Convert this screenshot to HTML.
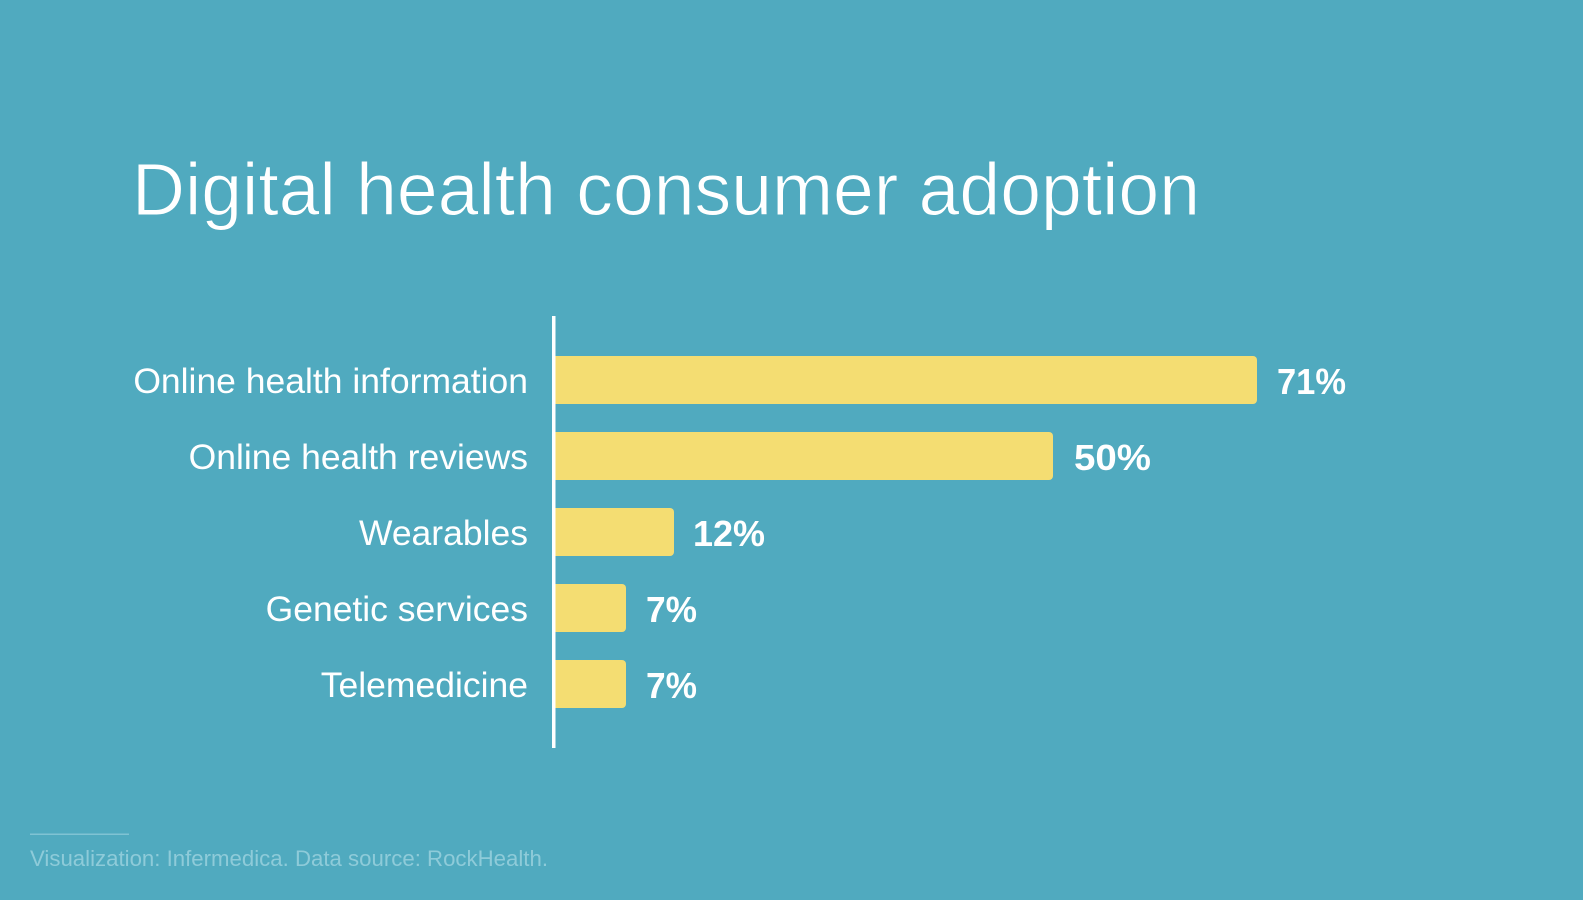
<!DOCTYPE html>
<html>
<head>
<meta charset="utf-8">
<style>
  html, body { margin: 0; padding: 0; }
  body { width: 1583px; height: 900px; background: #50aabf; overflow: hidden; }
  svg { display: block; }
</style>
</head>
<body>
<svg width="1583" height="900" viewBox="0 0 1583 900" xmlns="http://www.w3.org/2000/svg">
  <rect x="0" y="0" width="1583" height="900" fill="#50aabf"/>

  <!-- Title -->
  <text x="132" y="215" font-family="Liberation Sans, sans-serif" font-size="74" fill="#ffffff" stroke="#50aabf" stroke-width="1" textLength="1068" lengthAdjust="spacingAndGlyphs">Digital health consumer adoption</text>

  <!-- Axis line -->
  <rect x="552" y="316" width="3.5" height="432" fill="#ffffff"/>

  <!-- Bars -->
  <g fill="#f4dd72">
    <path d="M555.5 356 H1253 a4 4 0 0 1 4 4 V400 a4 4 0 0 1 -4 4 H555.5 Z"/>
    <path d="M555.5 432 H1049 a4 4 0 0 1 4 4 V476 a4 4 0 0 1 -4 4 H555.5 Z"/>
    <path d="M555.5 508 H670 a4 4 0 0 1 4 4 V552 a4 4 0 0 1 -4 4 H555.5 Z"/>
    <path d="M555.5 584 H622 a4 4 0 0 1 4 4 V628 a4 4 0 0 1 -4 4 H555.5 Z"/>
    <path d="M555.5 660 H622 a4 4 0 0 1 4 4 V704 a4 4 0 0 1 -4 4 H555.5 Z"/>
  </g>

  <!-- Category labels -->
  <g font-family="Liberation Sans, sans-serif" font-size="35.5" fill="#ffffff" text-anchor="end">
    <text x="528" y="393">Online health information</text>
    <text x="528" y="469">Online health reviews</text>
    <text x="528" y="545">Wearables</text>
    <text x="528" y="621">Genetic services</text>
    <text x="528" y="697">Telemedicine</text>
  </g>

  <!-- Value labels -->
  <g font-family="Liberation Sans, sans-serif" font-size="36" font-weight="bold" fill="#ffffff">
    <text x="1277" y="394" textLength="69" lengthAdjust="spacingAndGlyphs">71%</text>
    <text x="1074" y="470" textLength="77" lengthAdjust="spacingAndGlyphs">50%</text>
    <text x="693" y="546" textLength="72" lengthAdjust="spacingAndGlyphs">12%</text>
    <text x="646" y="622" textLength="51" lengthAdjust="spacingAndGlyphs">7%</text>
    <text x="646" y="698" textLength="51" lengthAdjust="spacingAndGlyphs">7%</text>
  </g>

  <!-- Footer -->
  <rect x="30" y="833.5" width="99" height="1.5" fill="#7fc3d3"/>
  <text x="30" y="866" font-family="Liberation Sans, sans-serif" font-size="22" fill="#8ecbd9" textLength="518" lengthAdjust="spacingAndGlyphs">Visualization: Infermedica. Data source: RockHealth.</text>
</svg>
</body>
</html>
